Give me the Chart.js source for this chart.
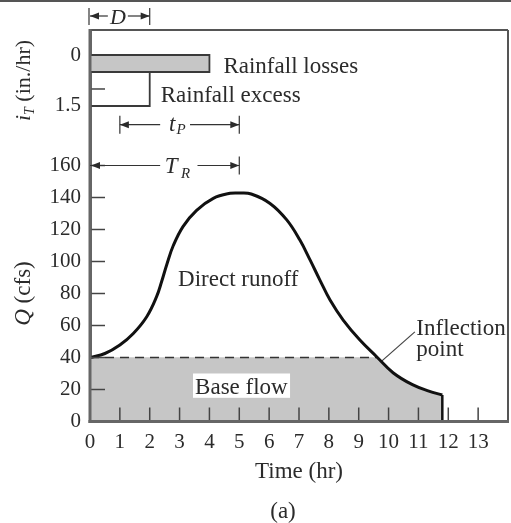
<!DOCTYPE html>
<html><head><meta charset="utf-8">
<script src="https://cdn.jsdelivr.net/npm/chart.js"></script>
<style>html,body{margin:0;padding:0;background:#fff;}canvas{display:block;}</style>
</head><body>
<canvas id="c" width="511" height="523"></canvas>
<script>
// ---- data ----
const hours   = [0, 0.5, 1.0, 1.45, 1.9, 2.23, 2.4, 2.57, 2.79, 3.12, 3.57, 4.13, 4.69, 5.0, 5.4, 6.03, 6.59, 7.03, 7.37, 7.7, 8.04, 8.48, 9.04, 9.6, 10.15, 10.8, 11.35, 11.8];
const runoffQ = [40, 42.5, 47.8, 55, 65.5, 78, 87.5, 98, 110, 122, 132, 139.5, 142.6, 142.8, 142.2, 136.3, 126, 113.4, 101, 88.4, 75.9, 63.4, 50.9, 40.5, 30.5, 23, 19, 16.6];
const baseLevelHours = [0, 9.6];
const baseLevelQ     = [40, 40];
const endHours = [11.8, 11.8];
const endQ     = [16.6, 0];
const lossHours   = [0, 4, 4, 0, 0];
const lossRain    = [0, 0, 0.5, 0.5, 0];
const excessHours = [0, 2, 2, 0, 0];
const excessRain  = [0.5, 0.5, 1.5, 1.5, 0.5];
const leaderHours = [9.75, 10.88];
const leaderQ     = [37.4, 56];
const xTicks    = [0,1,2,3,4,5,6,7,8,9,10,11,12,13];
const qTicks    = [0,20,40,60,80,100,120,140,160];
const rainTicks = [0, 1.5];
const rainMinorTicks = [1];

const pts = (xs, ys) => xs.map((x, i) => ({x, y: ys[i]}));
const FONT = '"Liberation Serif", "Times New Roman", serif';
const INK = '#2b2b2b';
const GRAY = '#c6c6c6';
const LS = 23;

const annot = {
  id: 'annot',
  afterDatasetsDraw(chart) {
    const {ctx, chartArea: ca} = chart;
    const xs = chart.scales.x, yq = chart.scales.yQ, yr = chart.scales.yR;
    const X = v => xs.getPixelForValue(v), Q = v => yq.getPixelForValue(v), R = v => yr.getPixelForValue(v);
    const seg = (x1, y1, x2, y2) => { ctx.beginPath(); ctx.moveTo(x1, y1); ctx.lineTo(x2, y2); ctx.stroke(); };
    const arrow = (xt, y, dir) => { ctx.beginPath(); ctx.moveTo(xt, y); ctx.lineTo(xt - dir*9, y - 3.5); ctx.lineTo(xt - dir*9, y + 3.5); ctx.closePath(); ctx.fill(); };
    const txt = (s, x, y, size, italic, align) => { ctx.font = (italic ? 'italic ' : '') + size + 'px ' + FONT; ctx.textAlign = align || 'left'; ctx.textBaseline = 'alphabetic'; ctx.fillText(s, x, y); };
    ctx.save();
    ctx.strokeStyle = '#444'; ctx.fillStyle = INK; ctx.lineWidth = 1.5;
    // inward tick marks
    xTicks.filter(v => v > 0).forEach(v => seg(X(v), ca.bottom, X(v), ca.bottom - 14));
    qTicks.filter(v => v > 0).forEach(v => seg(ca.left, Q(v), ca.left + 15, Q(v)));
    rainMinorTicks.forEach(v => seg(ca.left, R(v), ca.left + 15, R(v)));
    // frame
    ctx.strokeStyle = '#555'; ctx.lineWidth = 2;
    seg(ca.left, ca.top, ca.right, ca.top);
    seg(ca.right, ca.top, ca.right, ca.bottom);
    ctx.strokeStyle = '#666'; ctx.lineWidth = 3;
    seg(ca.left, ca.top - 1, ca.left, ca.bottom + 1.5);
    seg(ca.left - 1.5, ca.bottom, ca.right + 1, ca.bottom);
    // top image border
    ctx.strokeStyle = '#555'; ctx.lineWidth = 2;
    seg(0, 1, chart.width, 1);

    // labels
    ctx.fillStyle = INK;
    txt('Rainfall losses', X(4) + 14, R(0.5) + 1, LS);
    txt('Rainfall excess', X(2) + 11, R(1.5) - 4, LS);
    txt('Direct runoff', X(2.95), Q(85), LS);
    txt('Inflection', X(10.93), Q(54), LS);
    txt('point', X(10.93), Q(41), LS);
    ctx.fillStyle = '#fff';
    ctx.fillRect(X(3.45), Q(30), X(6.7) - X(3.45), Q(14.8) - Q(30));
    ctx.fillStyle = INK;
    txt('Base flow', X(3.52), Q(17), LS);

    // D arrow
    ctx.strokeStyle = '#333'; ctx.lineWidth = 1.2;
    const yD = ca.top - 14;
    seg(X(0) - 1, yD - 8, X(0) - 1, yD + 9);
    seg(X(2), yD - 8, X(2), yD + 9);
    seg(X(0), yD, X(1) - 12, yD); arrow(X(0), yD, -1);
    seg(X(1) + 8, yD, X(2), yD); arrow(X(2), yD, 1);
    txt('D', X(1) - 2, yD + 8, 22, true, 'center');

    // tP arrow
    const yP = R(2.05);
    seg(X(1), yP - 9, X(1), yP + 9);
    seg(X(5), yP - 9, X(5), yP + 9);
    seg(X(1), yP, X(2.35), yP); arrow(X(1), yP, -1);
    seg(X(3.35), yP, X(5), yP); arrow(X(5), yP, 1);
    txt('t', X(2.75), yP + 6, LS, true, 'center');
    txt('P', X(3.05), yP + 9, 15, true, 'center');

    // TR arrow
    const yT = Q(160);
    seg(X(5), yT - 9, X(5), yT + 9);
    seg(X(0), yT, X(2.35), yT); arrow(X(0) + 1, yT, -1);
    seg(X(3.6), yT, X(5), yT); arrow(X(5), yT, 1);
    txt('T', X(2.72), yT + 7, LS, true, 'center');
    txt('R', X(3.2), yT + 12, 15, true, 'center');

    // rotated axis titles
    const rot = (cx, cy, parts) => {
      ctx.save(); ctx.translate(cx, cy); ctx.rotate(-Math.PI / 2);
      ctx.textAlign = 'left'; ctx.textBaseline = 'alphabetic';
      let w = 0;
      parts.forEach(p => { ctx.font = (p.i ? 'italic ' : '') + p.s + 'px ' + FONT; p.w = ctx.measureText(p.t).width; w += p.w; });
      let x = -w / 2;
      parts.forEach(p => { ctx.font = (p.i ? 'italic ' : '') + p.s + 'px ' + FONT; ctx.fillText(p.t, x, 7 + (p.d || 0)); x += p.w; });
      ctx.restore();
    };
    rot(23, Q(80), [{t: 'Q', s: LS, i: true}, {t: ' (cfs)', s: LS}]);
    rot(23, R(0.75), [{t: 'i', s: 22, i: true}, {t: 'T', s: 14, i: true, d: 4}, {t: ' (in./hr)', s: 22}]);

    // figure caption
    txt('(a)', 283, 518, LS, false, 'center');
    ctx.restore();
  }
};

const tickFont = {family: FONT, size: 21};
const curveOpts = {tension: 0.4, pointRadius: 0, yAxisID: 'yQ'};
new Chart(document.getElementById('c'), {
  type: 'line',
  data: {
    datasets: [
      Object.assign({label: 'Direct runoff', data: pts(hours, runoffQ), borderColor: '#111', borderWidth: 3, fill: false, order: 1}, curveOpts),
      {label: 'Recession end', data: pts(endHours, endQ), yAxisID: 'yQ', borderColor: '#111', borderWidth: 2.5,
       pointRadius: 0, fill: false, order: 2},
      {label: 'Base level', data: pts(baseLevelHours, baseLevelQ), yAxisID: 'yQ', borderColor: '#333', borderWidth: 1.5,
       borderDash: [9, 6], pointRadius: 0, fill: false, order: 3},
      {label: 'Leader', data: pts(leaderHours, leaderQ), yAxisID: 'yQ', borderColor: '#444', borderWidth: 1.2,
       pointRadius: 0, fill: false, order: 4},
      Object.assign({label: 'Cover', data: pts(hours, runoffQ), borderWidth: 0, borderColor: 'rgba(0,0,0,0)',
       fill: {target: {value: 40}, above: '#ffffff', below: 'rgba(0,0,0,0)'}, order: 8}, curveOpts),
      Object.assign({label: 'Base flow', data: pts(hours, runoffQ), borderWidth: 0, borderColor: 'rgba(0,0,0,0)',
       backgroundColor: GRAY, fill: 'origin', order: 9}, curveOpts),
      {label: 'Rainfall losses', data: pts(lossHours, lossRain), yAxisID: 'yR', borderColor: '#3a3a3a', borderWidth: 1.8,
       backgroundColor: GRAY, fill: 'shape', pointRadius: 0, tension: 0, order: 5},
      {label: 'Rainfall excess', data: pts(excessHours, excessRain), yAxisID: 'yR', borderColor: '#3a3a3a', borderWidth: 1.8,
       fill: false, pointRadius: 0, tension: 0, order: 6}
    ]
  },
  options: {
    responsive: false, animation: false,
    layout: {padding: {top: 30, right: 3, left: 0, bottom: 0}},
    plugins: {legend: {display: false}, tooltip: {enabled: false}, title: {display: false}},
    events: [],
    scales: {
      x: {type: 'linear', position: 'bottom', min: 0, max: 14,
          afterBuildTicks: s => { s.ticks = xTicks.map(v => ({value: v})); },
          afterFit: s => { s.height = 101.5; },
          grid: {display: false, drawTicks: false},
          border: {display: true, color: '#666', width: 3},
          ticks: {font: tickFont, color: INK, padding: 8, maxRotation: 0, autoSkip: false},
          title: {display: true, text: 'Time (hr)', font: {family: FONT, size: LS, lineHeight: 1.2}, color: INK,
                  padding: {top: 0, bottom: 37}}},
      yQ: {type: 'linear', position: 'left', stack: 'left', stackWeight: 272, weight: 0, min: 0, max: 170,
           afterBuildTicks: s => { s.ticks = qTicks.map(v => ({value: v})); },
           afterFit: s => { s.width = 90; },
           grid: {display: false, drawTicks: false},
           border: {display: true, color: '#666', width: 3},
           ticks: {font: tickFont, color: INK, padding: 9, autoSkip: false}},
      yR: {type: 'linear', position: 'left', stack: 'left', stackWeight: 119.5, weight: 1, reverse: true,
           min: -0.735, max: 2.78,
           afterBuildTicks: s => { s.ticks = rainTicks.map(v => ({value: v})); },
           afterFit: s => { s.width = 90; },
           grid: {display: false, drawTicks: false},
           border: {display: true, color: '#666', width: 3},
           ticks: {font: tickFont, color: INK, padding: 9, autoSkip: false}}
    }
  },
  plugins: [annot]
});
</script>
</body></html>
